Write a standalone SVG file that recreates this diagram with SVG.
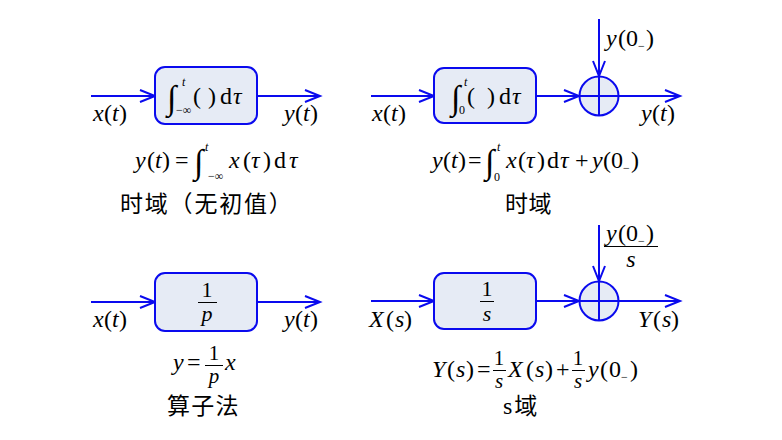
<svg xmlns="http://www.w3.org/2000/svg" width="782" height="440" viewBox="0 0 782 440">
<defs>
<style>
.ln{stroke:#0a0aee;stroke-width:2;fill:none}
.bx{stroke:#0a0aee;stroke-width:2;fill:#e6ebf5}
.i{font-style:italic}
.s{font-size:12px}
.big{font-size:34px}
.fr{font-size:21px}
.fb{stroke:#000;stroke-width:1}
.cn{font-family:"Noto Sans CJK SC",sans-serif;font-size:23px}
</style>
<marker id="ah" markerUnits="userSpaceOnUse" markerWidth="20" markerHeight="16" refX="16" refY="7" orient="auto" overflow="visible">
<path d="M1,1 L16,7 L1,13" stroke="#0a0aee" stroke-width="2" fill="none"/>
</marker>
</defs>
<rect width="782" height="440" fill="#fff"/>

<g id="connectors">
<line class="ln" x1="91" y1="96" x2="155" y2="96" marker-end="url(#ah)"/>
<line class="ln" x1="257" y1="96" x2="320" y2="96" marker-end="url(#ah)"/>
<line class="ln" x1="371" y1="96" x2="434" y2="96" marker-end="url(#ah)"/>
<line class="ln" x1="536" y1="96" x2="579" y2="96" marker-end="url(#ah)"/>
<line class="ln" x1="618" y1="96" x2="680" y2="96" marker-end="url(#ah)"/>
<line class="ln" x1="599" y1="19" x2="599" y2="76" marker-end="url(#ah)"/>
<line class="ln" x1="91" y1="302" x2="155" y2="302" marker-end="url(#ah)"/>
<line class="ln" x1="257" y1="302" x2="320" y2="302" marker-end="url(#ah)"/>
<line class="ln" x1="371" y1="301" x2="434" y2="301" marker-end="url(#ah)"/>
<line class="ln" x1="536" y1="301" x2="579" y2="301" marker-end="url(#ah)"/>
<line class="ln" x1="618" y1="301" x2="680" y2="301" marker-end="url(#ah)"/>
<line class="ln" x1="599" y1="225" x2="599" y2="281" marker-end="url(#ah)"/>
</g>

<g font-family="Liberation Serif, Times New Roman, serif" font-size="24" fill="#000">

<g id="node-int1">
<rect class="bx" x="155" y="67" width="102" height="57" rx="10"/>
<text><tspan class="big" x="167" y="109">∫</tspan><tspan class="i s" x="182" y="86">t</tspan><tspan class="s" x="176" y="114">−∞</tspan><tspan x="193" y="104">(</tspan><tspan x="208" y="104">)</tspan><tspan x="220" y="104">d</tspan><tspan class="i" x="233" y="104">τ</tspan></text>
</g>

<g id="node-int2">
<rect class="bx" x="434" y="68" width="102" height="55" rx="10"/>
<text><tspan class="big" x="451" y="109">∫</tspan><tspan class="i s" x="464" y="86">t</tspan><tspan class="s" x="459" y="114">0</tspan><tspan x="467" y="104">(</tspan><tspan x="487" y="104">)</tspan><tspan x="499" y="104">d</tspan><tspan class="i" x="512" y="104">τ</tspan></text>
</g>

<g id="node-sum1">
<circle class="bx" cx="599" cy="96" r="19.5"/>
<line class="ln" x1="579.5" y1="96" x2="618.5" y2="96"/>
<line class="ln" x1="599" y1="76.5" x2="599" y2="115.5"/>
</g>

<g id="node-op">
<rect class="bx" x="155" y="273" width="102" height="58" rx="10"/>
<text text-anchor="middle" x="207" y="297" font-size="22">1</text>
<line class="fb" x1="198" y1="302.5" x2="217" y2="302.5"/>
<text class="i" text-anchor="middle" x="207" y="321" font-size="22">p</text>
</g>

<g id="node-s">
<rect class="bx" x="434" y="273" width="102" height="56" rx="10"/>
<text text-anchor="middle" x="487" y="296" font-size="22">1</text>
<line class="fb" x1="480" y1="301.5" x2="494" y2="301.5"/>
<text class="i" text-anchor="middle" x="487" y="321" font-size="22">s</text>
</g>

<g id="node-sum2">
<circle class="bx" cx="599" cy="301" r="19.5"/>
<line class="ln" x1="579.5" y1="301" x2="618.5" y2="301"/>
<line class="ln" x1="599" y1="281.5" x2="599" y2="320.5"/>
</g>

<g id="labels">
<text><tspan class="i" x="93" y="121">x</tspan><tspan x="104" y="121">(</tspan><tspan class="i" x="112" y="121">t</tspan><tspan x="119" y="121">)</tspan></text>
<text><tspan class="i" x="284" y="121">y</tspan><tspan x="295" y="121">(</tspan><tspan class="i" x="303" y="121">t</tspan><tspan x="310" y="121">)</tspan></text>
<text><tspan class="i" x="372" y="121">x</tspan><tspan x="383" y="121">(</tspan><tspan class="i" x="391" y="121">t</tspan><tspan x="398" y="121">)</tspan></text>
<text><tspan class="i" x="641" y="121">y</tspan><tspan x="652" y="121">(</tspan><tspan class="i" x="660" y="121">t</tspan><tspan x="667" y="121">)</tspan></text>
<text><tspan class="i" x="606" y="46">y</tspan><tspan x="618" y="46">(</tspan><tspan x="626" y="46">0</tspan><tspan class="s" x="638" y="50">−</tspan><tspan x="646" y="46">)</tspan></text>

<text><tspan class="i" x="93" y="327">x</tspan><tspan x="104" y="327">(</tspan><tspan class="i" x="112" y="327">t</tspan><tspan x="119" y="327">)</tspan></text>
<text><tspan class="i" x="284" y="327">y</tspan><tspan x="295" y="327">(</tspan><tspan class="i" x="303" y="327">t</tspan><tspan x="310" y="327">)</tspan></text>
<text><tspan class="i" x="369" y="327">X</tspan><tspan x="386" y="327">(</tspan><tspan class="i" x="395" y="327">s</tspan><tspan x="404" y="327">)</tspan></text>
<text><tspan class="i" x="638" y="327">Y</tspan><tspan x="653" y="327">(</tspan><tspan class="i" x="662" y="327">s</tspan><tspan x="671" y="327">)</tspan></text>
<text><tspan class="i" x="606" y="241">y</tspan><tspan x="618" y="241">(</tspan><tspan x="626" y="241">0</tspan><tspan class="s" x="638" y="245">−</tspan><tspan x="646" y="241">)</tspan></text>
<line class="fb" x1="604" y1="246.5" x2="658" y2="246.5"/>
<text class="i" x="631" y="267" text-anchor="middle">s</text>
</g>

<g id="formulas">
<text><tspan class="i" x="135" y="168">y</tspan><tspan x="147" y="168">(</tspan><tspan class="i" x="155" y="168">t</tspan><tspan x="162" y="168">)</tspan><tspan x="175" y="168">=</tspan><tspan class="big" x="194" y="173">∫</tspan><tspan class="i s" x="205" y="151">t</tspan><tspan class="s" x="208" y="180">−∞</tspan><tspan class="i" x="229" y="168">x</tspan><tspan x="243" y="168">(</tspan><tspan class="i" x="251" y="168">τ</tspan><tspan x="263" y="168">)</tspan><tspan x="274" y="168">d</tspan><tspan class="i" x="289" y="168">τ</tspan></text>
<text class="cn" x="120" y="212" letter-spacing="1.8">时域（无初值）</text>

<text><tspan class="i" x="432" y="168">y</tspan><tspan x="443" y="168">(</tspan><tspan class="i" x="451" y="168">t</tspan><tspan x="458" y="168">)</tspan><tspan x="468" y="168">=</tspan><tspan class="big" x="485" y="173">∫</tspan><tspan class="i s" x="497" y="151">t</tspan><tspan class="s" x="494" y="181">0</tspan><tspan class="i" x="506" y="168">x</tspan><tspan x="518" y="168">(</tspan><tspan class="i" x="526" y="168">τ</tspan><tspan x="537" y="168">)</tspan><tspan x="547" y="168">d</tspan><tspan class="i" x="560" y="168">τ</tspan><tspan x="575" y="168">+</tspan><tspan class="i" x="592" y="168">y</tspan><tspan x="603" y="168">(</tspan><tspan x="611" y="168">0</tspan><tspan class="s" x="623" y="172">−</tspan><tspan x="631" y="168">)</tspan></text>
<text class="cn" x="505" y="212" letter-spacing="0.5">时域</text>

<text><tspan class="i" x="173" y="370">y</tspan><tspan x="187" y="370">=</tspan><tspan class="i" x="225" y="370">x</tspan></text>
<text class="fr" x="214" y="359.5" text-anchor="middle">1</text>
<text class="fr i" x="214" y="383" text-anchor="middle">p</text>
<line class="fb" x1="205" y1="365.5" x2="223" y2="365.5"/>
<text class="cn" x="167" y="414" letter-spacing="1.3">算子法</text>

<text><tspan class="i" x="432" y="377">Y</tspan><tspan x="447" y="377">(</tspan><tspan class="i" x="456" y="377">s</tspan><tspan x="466" y="377">)</tspan><tspan x="477" y="377">=</tspan><tspan class="i" x="508" y="377">X</tspan><tspan x="526" y="377">(</tspan><tspan class="i" x="535" y="377">s</tspan><tspan x="545" y="377">)</tspan><tspan x="556" y="377">+</tspan><tspan class="i" x="588" y="377">y</tspan><tspan x="600" y="377">(</tspan><tspan x="609" y="377">0</tspan><tspan class="s" x="621" y="381">−</tspan><tspan x="630" y="377">)</tspan></text>
<text class="fr" x="499" y="364.5" text-anchor="middle">1</text>
<text class="fr i" x="499" y="388" text-anchor="middle">s</text>
<text class="fr" x="578" y="364.5" text-anchor="middle">1</text>
<text class="fr i" x="578" y="388" text-anchor="middle">s</text>
<line class="fb" x1="493" y1="370.5" x2="506" y2="370.5"/>
<line class="fb" x1="572" y1="370.5" x2="585" y2="370.5"/>
<text x="503" y="414">s<tspan class="cn" dx="2" font-size="24">域</tspan></text>
</g>
</g>
</svg>
